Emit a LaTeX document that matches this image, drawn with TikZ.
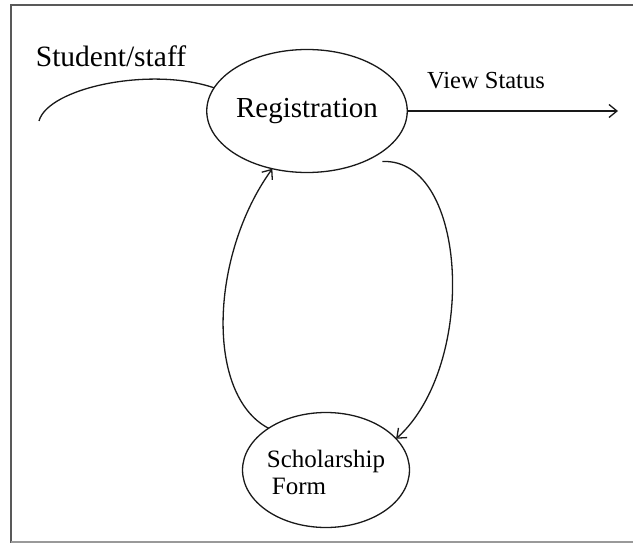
\documentclass[tikz,border=0pt]{standalone}
\usepackage{fontspec}
\setmainfont{Liberation Serif}
\usetikzlibrary{shapes.geometric,arrows.meta}
\begin{document}
\begin{tikzpicture}[x=1pt,y=-1pt,
  bub/.style={ellipse,draw=black!90,line width=1.3pt,inner sep=0pt,outer sep=0pt},
  conn/.style={draw=black!90,line width=1.3pt},
  flow/.style={conn,-{Straight Barb[length=8pt,width=13pt,line width=1.3pt]}},
  lab/.style={inner sep=0pt,anchor=base},
  framedark/.style={draw=black!65,line width=2.2pt},
  framelight/.style={draw=black!40,line width=2pt}]
\useasboundingbox (0,0) rectangle (633,543);
% frame
\draw[framedark] (634,5) -- (11,5) -- (11,543);
\draw[framelight] (11,542) -- (634,542);
% nodes
\node[bub,minimum width=190pt,minimum height=123pt,font=\fontsize{29}{30}\selectfont] (reg) at (307,111) {Registration};
\node[bub,minimum width=162pt,minimum height=115pt,font=\fontsize{25}{27}\selectfont] (sch) at (326,470)
  {\begin{tabular}{@{}l@{}}\rule{0pt}{31pt}Scholarship\\\hspace{5pt}Form\end{tabular}};
\node[lab,font=\fontsize{29.5}{30}\selectfont] (stu) at (111,67) {Student/staff};
\node[lab,font=\fontsize{24.5}{26}\selectfont] (vs) at (486,89) {View Status};
% connectors
\coordinate (sfree) at (39,121);
\draw[conn] (sfree) .. controls (48,88) and (150,66) .. (reg.166);
\coordinate (vend) at (618,111);
\draw[flow] (reg.east) -- (vend);
\draw[flow] (sch.144) .. controls (205,395) and (210,255) .. (reg.239);
\coordinate (rstart) at ([shift={(8pt,-5pt)}]reg.326);
\draw[flow] (rstart) .. controls (468,158) and (478,365) .. (sch.24);
\end{tikzpicture}
\end{document}
